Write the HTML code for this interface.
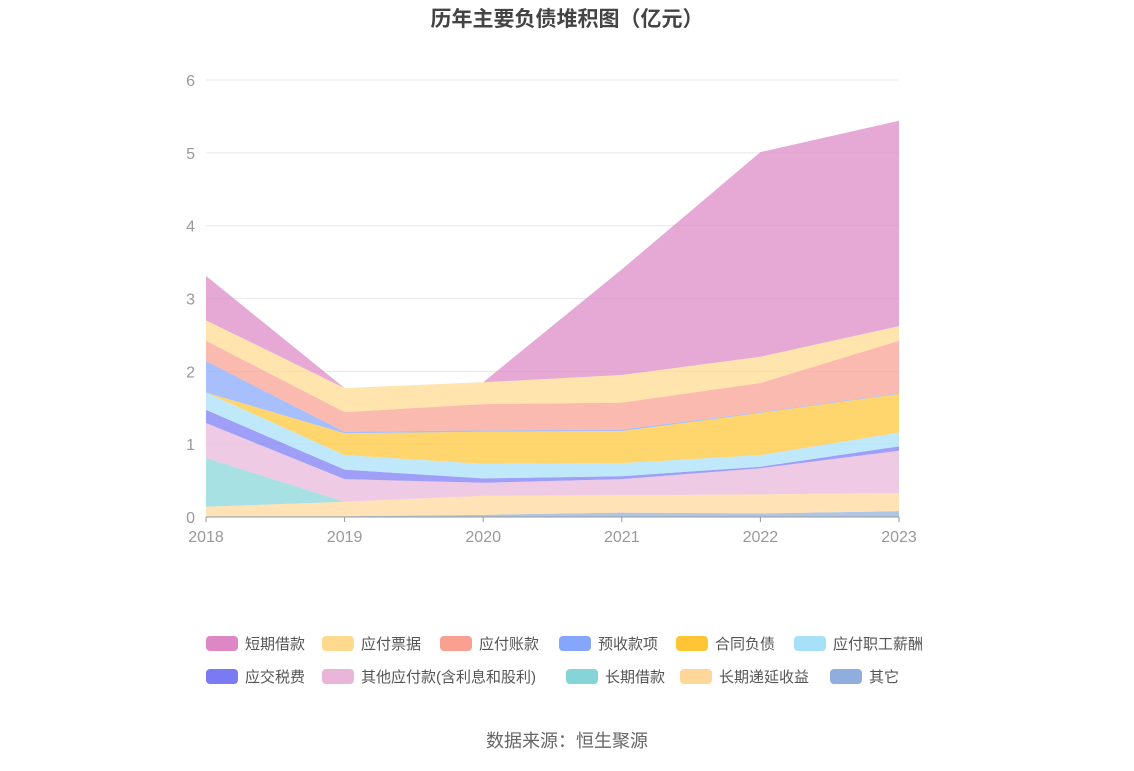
<!DOCTYPE html>
<html><head><meta charset="utf-8"><style>
body{margin:0;background:#fff;font-family:"Liberation Sans","Noto Sans CJK SC",sans-serif;}
</style></head><body>
<svg id="chart" width="1134" height="766" xmlns="http://www.w3.org/2000/svg" style="font-family:'Liberation Sans','Noto Sans CJK SC',sans-serif">
<text x="567" y="26" text-anchor="middle" font-size="21" font-weight="bold" fill="#444">历年主要负债堆积图（亿元）</text>
<g id="grid"></g><g id="areas"></g><g id="axes"></g><g id="legend"></g>
<text x="567" y="747" text-anchor="middle" font-size="18" fill="#666">数据来源：恒生聚源</text>
</svg>
<script>
const years=["2018","2019","2020","2021","2022","2023"];
const yTicks=[0,1,2,3,4,5,6];
const seriesNames=["其它","长期递延收益","长期借款","其他应付款(含利息和股利)","应交税费","应付职工薪酬","合同负债","预收款项","应付账款","应付票据","短期借款"];
const sOther=[0.01,0.01,0.03,0.06,0.05,0.08];
const sDefer=[0.13,0.20,0.26,0.24,0.26,0.25];
const sLongLoan=[0.67,0,0,0,0,0];
const sOtherPay=[0.48,0.31,0.18,0.22,0.36,0.58];
const sTax=[0.18,0.13,0.06,0.04,0.02,0.06];
const sSalary=[0.24,0.20,0.20,0.18,0.16,0.19];
const sContract=[0,0.30,0.44,0.44,0.58,0.53];
const sAdvance=[0.43,0.02,0.02,0.02,0.01,0.01];
const sPayable=[0.28,0.27,0.36,0.37,0.40,0.72];
const sNotes=[0.28,0.33,0.30,0.38,0.36,0.20];
const sShort=[0.61,0,0,1.45,2.81,2.82];
const series=[sOther,sDefer,sLongLoan,sOtherPay,sTax,sSalary,sContract,sAdvance,sPayable,sNotes,sShort];
const colors=["#8faedd","#ffd79a","#85d5d8","#e9b6d9","#7a7af5","#a6e0f9","#ffc534","#86a6fd","#f9a090","#ffd98e","#dd88c5"];
const slugs=["other","deferred-income","long-term-loan","other-payables","tax-payable","salary-payable","contract-liability","advance-receipts","accounts-payable","notes-payable","short-term-loan"];
const NS="http://www.w3.org/2000/svg";
const x0=206,x1=899,y0=517,yTop=80,yMax=6;
const xs=i=>x0+(x1-x0)*i/(years.length-1);
const ys=v=>y0-(y0-yTop)*v/yMax;
function mk(t,p,a){const e=document.createElementNS(NS,t);for(const k in a)e.setAttribute(k,a[k]);p.appendChild(e);return e;}
const grid=document.getElementById('grid'),axes=document.getElementById('axes'),areas=document.getElementById('areas'),legend=document.getElementById('legend');
yTicks.forEach(t=>{
 const l=mk('line',grid,{x1:x0,x2:x1,y1:ys(t),y2:ys(t),stroke:'#e6e8f2','stroke-width':1});
 
 
 const tx=mk('text',axes,{x:195,y:ys(t)+6,'text-anchor':'end','font-size':16,fill:'#999'});tx.textContent=t;
 
 
});
let cum=years.map(()=>0);
series.forEach((s,k)=>{
 const lo=cum.slice(),hi=cum.map((c,i)=>c+s[i]);
 let d='M'+hi.map((v,i)=>xs(i)+','+ys(v)).join('L');
 for(let i=years.length-1;i>=0;i--)d+='L'+xs(i)+','+ys(lo[i]);
 const p=mk('path',areas,{d:d+'Z',fill:colors[k],'fill-opacity':0.72});
 
 
 cum=hi;
});
const ax=mk('line',axes,{x1:x0,x2:x1,y1:y0,y2:y0,stroke:'#999'});


years.forEach((y,i)=>{
 const tk=mk('line',axes,{x1:xs(i),x2:xs(i),y1:y0,y2:y0+5,stroke:'#999'});
 
 
 const tx=mk('text',axes,{x:xs(i),y:542,'text-anchor':'middle','font-size':16,fill:'#999'});tx.textContent=y;
 
 
});
const legOrder=[10,9,8,7,6,5,4,3,2,1,0];
const legPos=[[206,643],[322,643],[440,643],[559,643],[676,643],[794,643],[206,676],[322,676],[566,676],[680,676],[830,676]];
legOrder.forEach((k,j)=>{
 const [lx,ly]=legPos[j];
 const g=mk('g',legend,{});
 
 
 mk('rect',g,{x:lx,y:ly-7,width:32,height:15,rx:4,fill:colors[k]});
 const t=mk('text',g,{x:lx+39,y:ly+6,'font-size':15,fill:'#555'});t.textContent=seriesNames[k];
});
</script>
</body></html>
